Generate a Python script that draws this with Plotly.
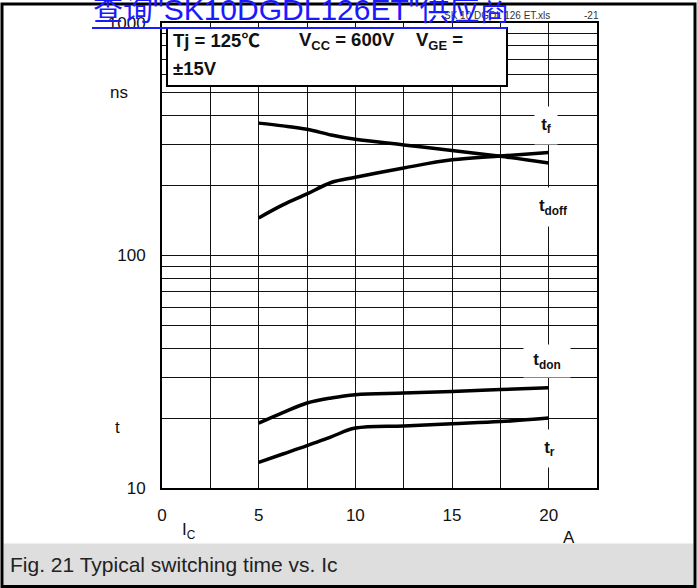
import plotly.graph_objects as go

# collector current (A)
ic = [5, 6.25, 7.5, 8.75, 10, 12.5, 15, 17.5, 20]
# switching times (ns)
t_f = [371, 361, 349, 330, 316, 299, 283, 267, 250]
t_doff = [145, 165, 184, 206, 217, 238, 258, 268, 277]
t_don = [19.0, 21.1, 23.2, 24.4, 25.2, 25.6, 26.0, 26.5, 27.0]
t_r = [12.9, 14.0, 15.2, 16.6, 18.1, 18.5, 18.9, 19.3, 20.0]

x_ticks = [0, 5, 10, 15, 20]
x_minor = [2.5, 7.5, 12.5, 17.5]
y_ticks = [10, 100, 1000]
y_minor = [20, 30, 40, 50, 60, 70, 80, 90, 200, 300, 400, 500, 600, 700, 800, 900]

W, H = 697, 588
L, R, T, B = 162, 100, 23, 100
PW, PH = W - L - R, H - T - B


def px(x):
    return (x - L) / PW


def py(y):
    return (H - B - y) / PH


FONT = "Arial, Liberation Sans, Noto Sans CJK SC, sans-serif"

fig = go.Figure()
for ys in [t_f, t_doff, t_don, t_r]:
    fig.add_trace(go.Scatter(
        x=ic, y=ys, mode="lines", line=dict(color="black", width=3.5, shape="spline"),
        showlegend=False, hoverinfo="skip"))

grid = dict(showgrid=True, gridcolor="#111", gridwidth=1)

fig.update_layout(
    width=W, height=H, autosize=False,
    margin=dict(l=L, r=R, t=T, b=B),
    paper_bgcolor="white", plot_bgcolor="white",
    font=dict(family=FONT, size=17, color="#111"),
    xaxis=dict(range=[0, 22.5], tickvals=x_ticks, ticks="", ticklabelstandoff=11,
               showline=True, mirror=True, linecolor="black", linewidth=2, zeroline=False,
               minor=dict(tickvals=x_minor, ticks="", **grid), **grid),
    yaxis=dict(type="log", range=[1, 3], tickvals=y_ticks, ticktext=["10", "100", "1000"],
               ticks="", ticklabelstandoff=11,
               showline=True, mirror=True, linecolor="black", linewidth=2, zeroline=False,
               minor=dict(tickvals=y_minor, ticks="", **grid), **grid),
)

shapes = [
    # outer frame
    dict(type="rect", xref="paper", yref="paper", x0=px(2), x1=px(695), y0=py(4), y1=py(586.5),
         line=dict(color="black", width=3), layer="above"),
    # caption band
    dict(type="rect", xref="paper", yref="paper", x0=px(3.5), x1=px(693.5), y0=py(543.5), y1=py(585),
         fillcolor="#dedede", line=dict(width=0), layer="below"),
    # condition box
    dict(type="rect", xref="paper", yref="paper", x0=px(167), x1=px(507), y0=py(28), y1=py(86),
         fillcolor="white", line=dict(color="black", width=2), layer="above"),
    # link underline
    dict(type="line", xref="paper", yref="paper", x0=px(92), x1=px(507), y0=py(28), y1=py(28),
         line=dict(color="#1a1aff", width=2), layer="above"),
]
fig.update_layout(shapes=shapes)


def note(text, x, y, size=17, bold=False, anchor="left", color="#111", **kw):
    if bold:
        text = "<b>" + text + "</b>"
    fig.add_annotation(text=text, xref="paper", yref="paper", x=px(x), y=py(y),
                       xanchor=anchor, yanchor="middle", showarrow=False,
                       font=dict(family=FONT, size=size, color=color), **kw)


# condition box text
note("Tj = 125℃", 171, 41, size=18.5, bold=True)
note("V<sub>CC</sub> = 600V", 297, 41, size=18.5, bold=True)
note("V<sub>GE</sub> =", 414, 41, size=18.5, bold=True)
note("±15V", 171, 68, size=18.5, bold=True)

# curve labels with white background over the grid
labels = [("t<sub>f</sub>", 546, 125.5, 22, 37), ("t<sub>doff</sub>", 553, 207, 38, 38),
          ("t<sub>don</sub>", 547, 361, 46, 32), ("t<sub>r</sub>", 549.5, 448.5, 25, 37)]
for txt, x, y, w, h in labels:
    note(txt, x, y, size=17, bold=True, anchor="center", bgcolor="white",
         width=w, height=h, borderpad=0)

# axis captions
note("ns", 119, 93, anchor="center")
note("t", 117, 427, anchor="center")
note("I<sub>C</sub>", 189, 531, anchor="center")
note("A", 569, 537, anchor="center")

# header texts
note("SK 10 DGDL 126 ET.xls", 442, 15, size=10, color="#333")
note("-21", 582, 16, size=10, color="#333")
note("查询\"SK10DGDL126ET\"供应商", 91, 9, size=30, color="#1a1aff")

# caption
note("Fig. 21 Typical switching time vs. Ic", 8, 564, size=21, color="#222")

fig.write_html("out.html", config={"displayModeBar": False},
               post_script="document.body.style.margin='0';document.body.style.overflow='hidden';")
